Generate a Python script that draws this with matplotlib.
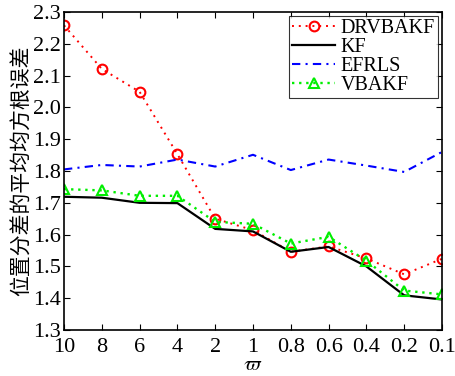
import matplotlib
matplotlib.use('Agg')
import matplotlib.pyplot as plt
import numpy as np

plt.rcParams['font.family'] = ['Liberation Serif', 'Noto Sans CJK SC']
plt.rcParams['mathtext.fontset'] = 'stix'

# 横轴刻度
omega_labels = ['10', '8', '6', '4', '2', '1', '0.8', '0.6', '0.4', '0.2', '0.1']
drvbakf = [2.258, 2.121, 2.049, 1.853, 1.650, 1.614, 1.546, 1.563, 1.525, 1.475, 1.524]
kf = [1.719, 1.716, 1.700, 1.699, 1.618, 1.610, 1.546, 1.561, 1.500, 1.409, 1.396]
efrls = [1.805, 1.819, 1.814, 1.836, 1.814, 1.851, 1.803, 1.836, 1.817, 1.797, 1.860]
vbakf = [1.743, 1.739, 1.722, 1.722, 1.640, 1.634, 1.572, 1.593, 1.518, 1.424, 1.412]

x = np.arange(len(omega_labels))

fig = plt.figure(figsize=(4.56, 3.76), dpi=100)
ax = fig.add_axes([64 / 456, 46 / 376, 378 / 456, 318 / 376])

ax.plot(x, drvbakf, c='r', ls=(0, (1, 2.5)), lw=1.4, marker='o', ms=7, mfc='none', mew=1.5, label='DRVBAKF')
ax.plot(x, kf, c='k', ls='-', lw=1.6, label='KF')
ax.plot(x, efrls, c='b', ls=(0, (4, 2.5, 1, 2.5)), lw=1.5, label='EFRLS')
ax.plot(x, vbakf, c='#00ee00', ls=(0, (1, 2)), lw=1.7, marker='^', ms=7, mfc='none', mew=1.5, label='VBAKF')

ax.set_xlim(0, 10)
ax.set_ylim(1.3, 2.3)
ax.set_xticks(x)
ax.set_xticklabels(omega_labels)
ax.set_yticks(np.arange(1.3, 2.31, 0.1))
ax.set_yticklabels(['%.1f' % v for v in np.arange(1.3, 2.31, 0.1)])
ax.tick_params(direction='in', top=True, right=True, labelsize=16, length=4, width=0.8)
ax.tick_params(axis='x', pad=6)
ax.tick_params(axis='y', pad=2)
for s in ax.spines.values():
    s.set_linewidth(1.2)

ax.set_xlabel(r'$\varpi$', fontsize=15, labelpad=-1)
ax.set_ylabel('位置分差的平均均方根误差', fontsize=15, labelpad=0)

leg = ax.legend(loc='upper right', fontsize=14.5, frameon=True, fancybox=False, edgecolor='k',
                borderpad=0.15, labelspacing=0.0, handlelength=2.1, handletextpad=0.3,
                borderaxespad=0.2)
leg.get_frame().set_linewidth(0.8)

fig.savefig('out.png', dpi=100)
